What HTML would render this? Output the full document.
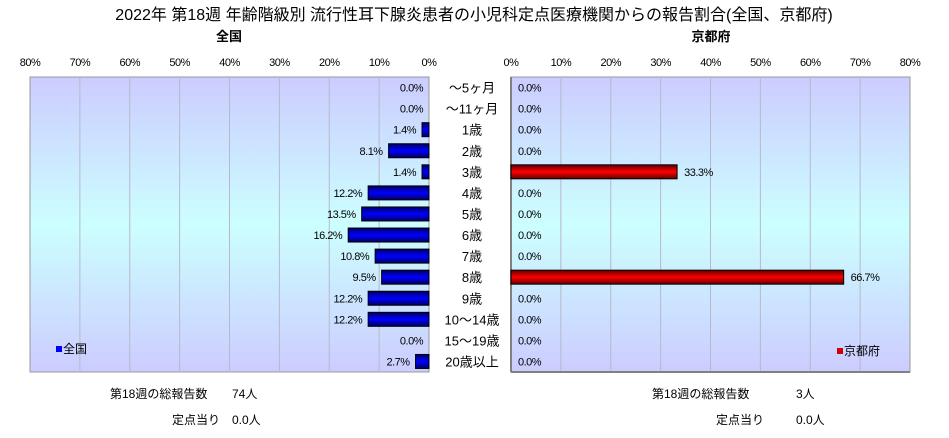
<!DOCTYPE html>
<html><head><meta charset="utf-8"><style>
body{margin:0;background:#fff;}
svg text{font-family:"Liberation Sans","Noto Sans CJK JP",sans-serif;fill:#000;}
</style></head><body>
<svg id="c" width="949" height="433" xmlns="http://www.w3.org/2000/svg">
<defs>
<linearGradient id="bg" x1="0" y1="0" x2="0" y2="1">
<stop offset="0" stop-color="#ccccff"/><stop offset="0.5" stop-color="#ccffff"/><stop offset="1" stop-color="#ccccff"/></linearGradient>
<linearGradient id="gb" x1="0" y1="0" x2="0" y2="1">
<stop offset="0" stop-color="#000060"/><stop offset="0.5" stop-color="#0000ff"/><stop offset="1" stop-color="#000060"/></linearGradient>
<linearGradient id="gr" x1="0" y1="0" x2="0" y2="1">
<stop offset="0" stop-color="#600000"/><stop offset="0.5" stop-color="#ff0000"/><stop offset="1" stop-color="#600000"/></linearGradient>
</defs>
<text x="474" y="20" font-size="16" text-anchor="middle">2022年 第18週 年齢階級別 流行性耳下腺炎患者の小児科定点医療機関からの報告割合(全国、京都府)</text>
<text x="229" y="41" font-size="13" font-weight="bold" text-anchor="middle">全国</text>
<text x="711" y="41" font-size="13" font-weight="bold" text-anchor="middle">京都府</text>
<g id="g"></g>
<text x="110" y="398" font-size="12">第18週の総報告数</text>
<text x="232" y="398" font-size="12">74人</text>
<text x="172" y="424" font-size="12">定点当り</text>
<text x="232" y="424" font-size="12">0.0人</text>
<text x="652" y="398" font-size="12">第18週の総報告数</text>
<text x="796" y="398" font-size="12">3人</text>
<text x="716" y="424" font-size="12">定点当り</text>
<text x="796" y="424" font-size="12">0.0人</text>
</svg>
<script>
const categories=["～5ヶ月","～11ヶ月","1歳","2歳","3歳","4歳","5歳","6歳","7歳","8歳","9歳","10～14歳","15～19歳","20歳以上"];
const nationalValues=[0.0,0.0,1.4,8.1,1.4,12.2,13.5,16.2,10.8,9.5,12.2,12.2,0.0,2.7];
const kyotoValues=[0.0,0.0,0.0,0.0,33.3,0.0,0.0,0.0,0.0,66.7,0.0,0.0,0.0,0.0];
const tickValues=[0,10,20,30,40,50,60,70,80];
const NS="http://www.w3.org/2000/svg";
const g=document.getElementById('g');
const top0=77,bot0=372,maxV=80;
const L0=429,L80=30,R0=511,R80=910;
const xL=v=>L0-(L0-L80)*v/maxV;
const xR=v=>R0+(R80-R0)*v/maxV;
const rowH=(bot0-top0)/categories.length;
const yC=i=>top0+rowH*(i+0.5);
function mk(t,a){const e=document.createElementNS(NS,t);for(const k in a)e.setAttribute(k,a[k]);g.appendChild(e);return e;}
let e;
e=mk('rect',{x:L80,y:top0,width:L0-L80,height:bot0-top0,fill:'url(#bg)',stroke:'#999','stroke-width':1});

e=mk('rect',{x:R0,y:top0,width:R80-R0,height:bot0-top0,fill:'url(#bg)',stroke:'#999','stroke-width':1});

tickValues.forEach(v=>{
 if(v>0&&v<80){
  e=mk('line',{x1:xL(v),x2:xL(v),y1:top0,y2:bot0,stroke:'#b8b8c8'});
  
  e=mk('line',{x1:xR(v),x2:xR(v),y1:top0,y2:bot0,stroke:'#b8b8c8'});
  
 }
 e=mk('text',{x:xL(v),y:66,'font-size':11,'text-anchor':'middle','letter-spacing':'-0.5'});e.textContent=v+'%';
 
 e=mk('text',{x:xR(v),y:66,'font-size':11,'text-anchor':'middle','letter-spacing':'-0.5'});e.textContent=v+'%';
 
});
e=mk('line',{x1:R0,x2:R0,y1:top0,y2:bot0,stroke:'#808080','stroke-width':2});

e=mk('line',{x1:R0,x2:R80,y1:bot0,y2:bot0,stroke:'#808080','stroke-width':2});

e=mk('rect',{x:L0+1,y:top0-1,width:R0-L0-2,height:bot0-top0+2,fill:'#fff'});

categories.forEach((c,i)=>{
 const y=yC(i),bh=14;
 const nv=nationalValues[i],kv=kyotoValues[i];
 if(nv>0){e=mk('rect',{x:xL(nv),y:y-bh/2,width:L0-xL(nv),height:bh,fill:'url(#gb)',stroke:'#000'});
  }
 e=mk('text',{x:xL(nv)-6,y:y+4,'font-size':11,'text-anchor':'end','letter-spacing':'-0.5'});e.textContent=nv.toFixed(1)+'%';
 
 if(kv>0){e=mk('rect',{x:R0,y:y-bh/2,width:xR(kv)-R0,height:bh,fill:'url(#gr)',stroke:'#000'});
  }
 e=mk('text',{x:xR(kv)+7,y:y+4,'font-size':11,'letter-spacing':'-0.5'});e.textContent=kv.toFixed(1)+'%';
 
 e=mk('text',{x:(L0+R0)/2+2,y:y+5,'font-size':13,'text-anchor':'middle'});e.textContent=c;
 
});
e=mk('rect',{x:56,y:346,width:6,height:6,fill:'#0000ff'});

e=mk('text',{x:63,y:353,'font-size':12});e.textContent='全国';

e=mk('rect',{x:837,y:348,width:6,height:6,fill:'#cc0000'});

e=mk('text',{x:844,y:355,'font-size':12});e.textContent='京都府';

</script>
</body></html>
